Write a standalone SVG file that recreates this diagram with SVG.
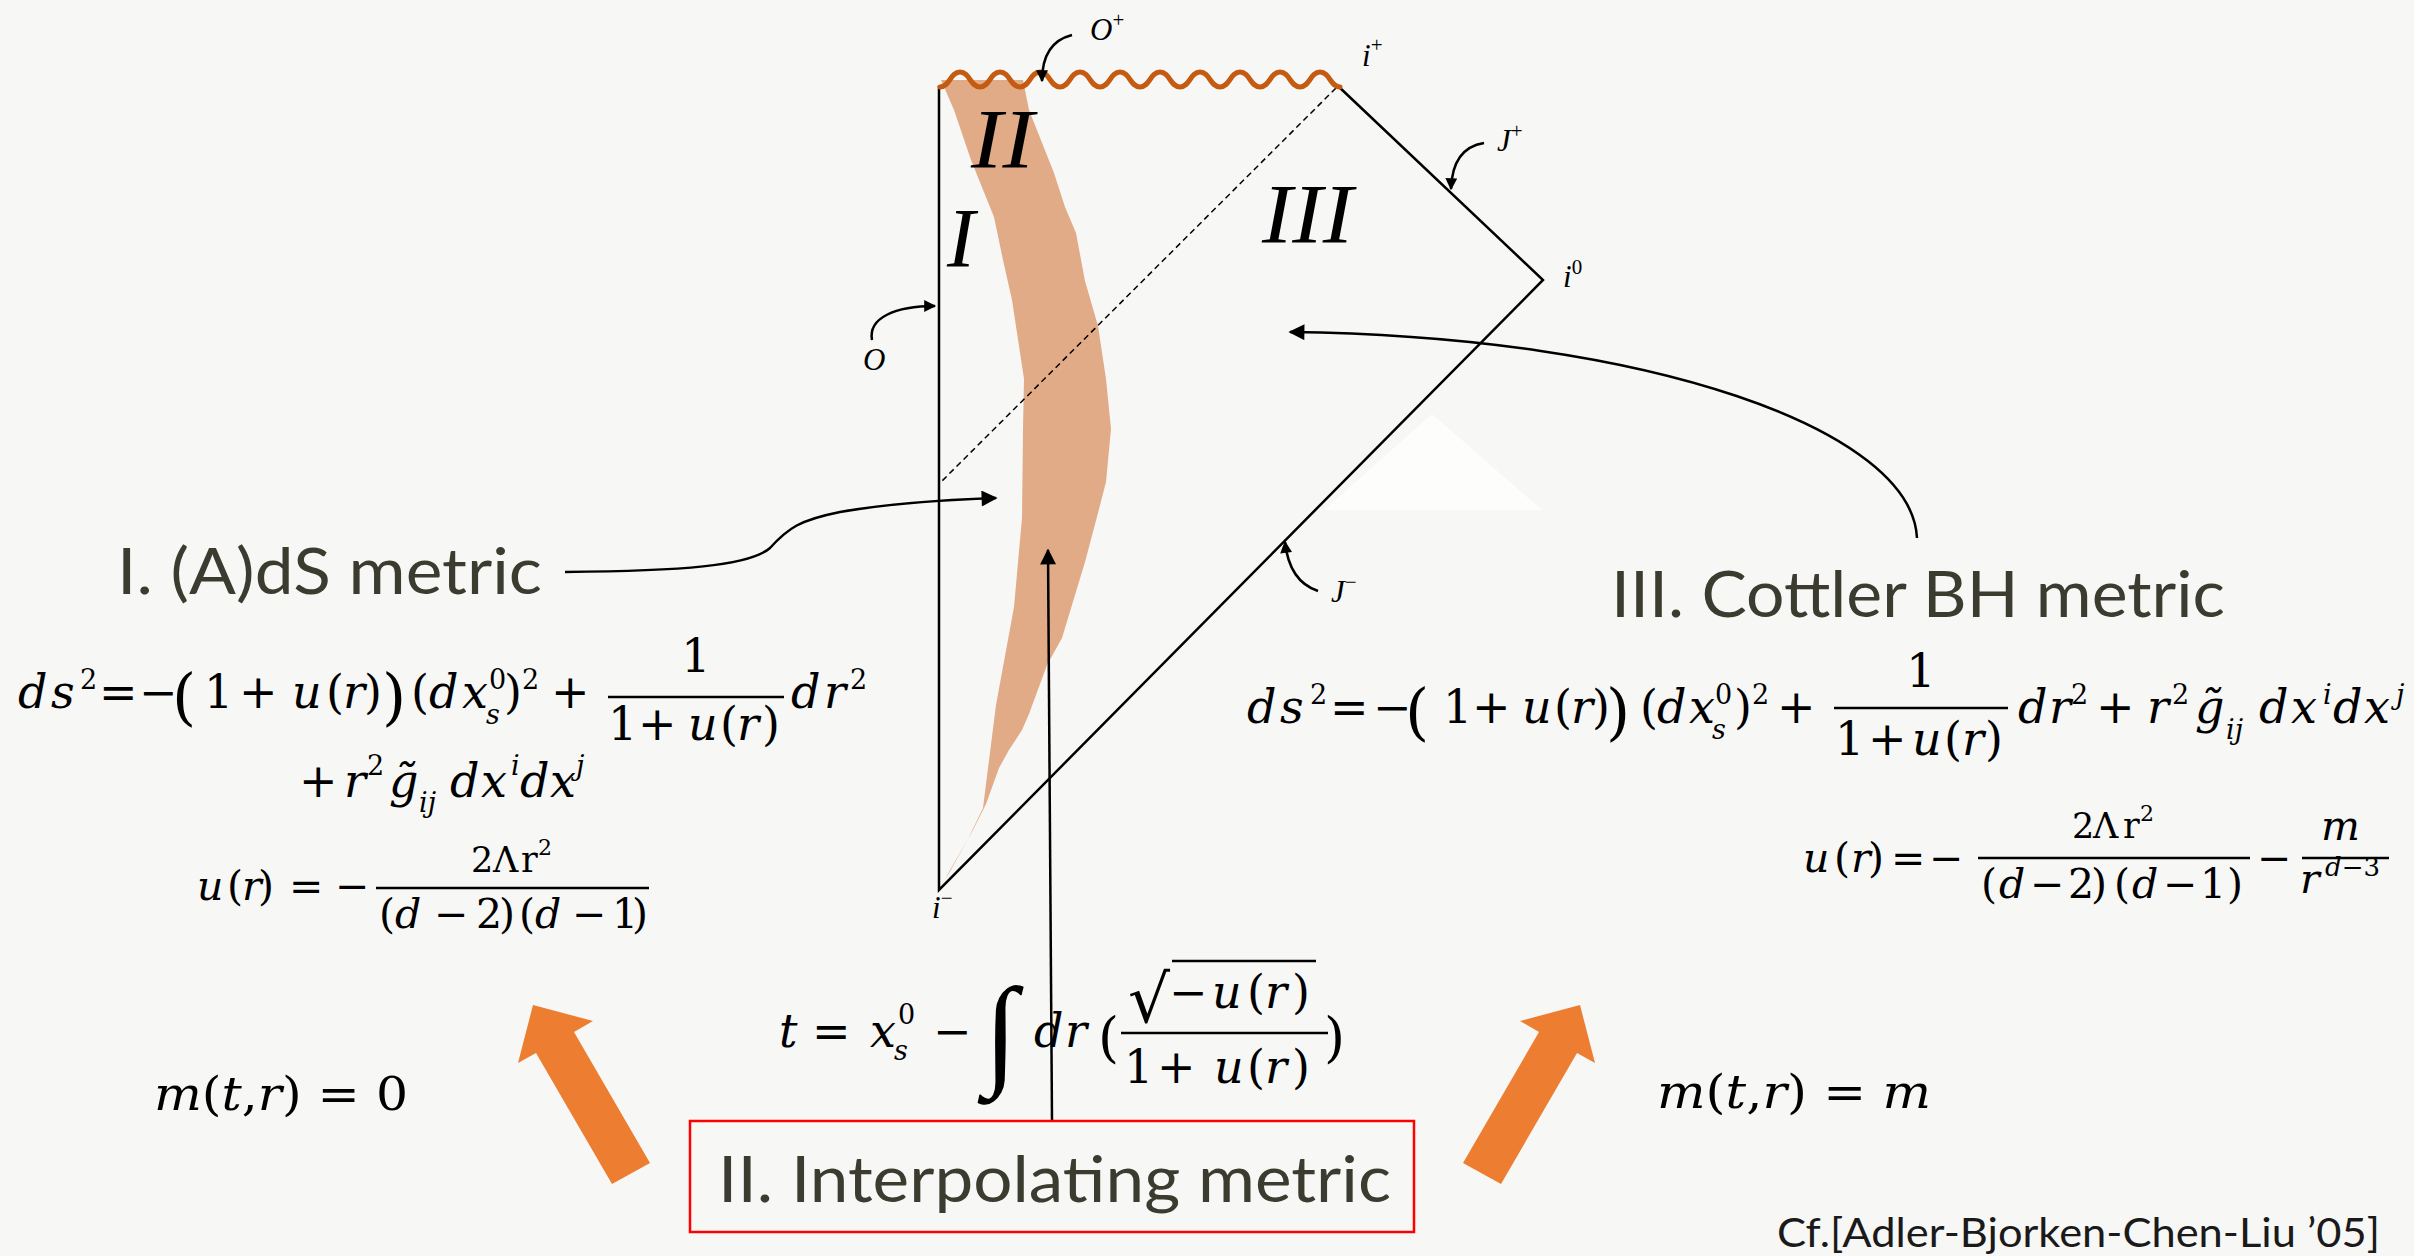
<svg xmlns="http://www.w3.org/2000/svg" width="2414" height="1256" viewBox="0 0 2414 1256">
<defs>
<style>
.pl{stroke:#000;stroke-width:2.5;fill:none}
.cn{stroke:#000;stroke-width:2.5;fill:none}
.t{font-family:Lato,"Open Sans","Liberation Sans",sans-serif;font-size:64px;fill:#3b3b2f}
.m{font-family:"DejaVu Serif","Liberation Serif",serif;font-size:46px;fill:#000}
.m40{font-family:"DejaVu Serif","Liberation Serif",serif;font-size:41px;fill:#000}
.i{font-style:italic}
.s{font-size:27px}
.lab{font-family:"Liberation Serif","DejaVu Serif",serif;font-style:italic;font-size:31px;fill:#000}
.sup{font-size:21px;font-style:normal}
.big{font-family:"Liberation Serif","DejaVu Serif",serif;font-style:italic;font-size:84px;fill:#000}
.bar{stroke:#000;stroke-width:2.5}
.orange{fill:#ED7D31}
</style>
<marker id="ah" viewBox="0 0 10 10" refX="9" refY="5" markerWidth="22" markerHeight="16" markerUnits="userSpaceOnUse" orient="auto"><path d="M0,0 L10,5 L0,10 z" fill="#000"/></marker>
<marker id="ahs" viewBox="0 0 10 10" refX="9" refY="5" markerWidth="16" markerHeight="12" markerUnits="userSpaceOnUse" orient="auto"><path d="M0,0 L10,5 L0,10 z" fill="#000"/></marker>
</defs>
<rect x="0" y="0" width="2414" height="1256" fill="#f7f7f6"/>
<polygon points="1324,510 1432,414 1542,510" fill="#ffffff" opacity="0.7"/>

<g id="penrose">
<polygon id="band" fill="#E1AB87" points="941,80 954,110 971,160 994,217 1003,260 1012,300 1024,379 1023,429 1022,518 1014,607 996,705 983,808 968,839 950,870 945,880 948,875 953,866 973,830 986,804 999,768 1009,750 1022,730 1029,714 1047,665 1062,638 1085,562 1098,513 1106,482 1111,429 1106,379 1098,326 1085,281 1076,233 1065,207 1054,173 1029,110 1023,80"/>
<path class="pl" d="M939,86 L939,890 L1543,280 L1338,86"/>
<path d="M1336,88 L941,482" stroke="#000" stroke-width="1.5" stroke-dasharray="6,4" fill="none"/>
<path id="singularity" d="M940,87 C950,87 950,72 960,72 S970,87 980,87 S990,72 1000,72 S1010,87 1020,87 S1030,72 1040,72 S1050,87 1060,87 S1070,72 1080,72 S1090,87 1100,87 S1110,72 1120,72 S1130,87 1140,87 S1150,72 1160,72 S1170,87 1180,87 S1190,72 1200,72 S1210,87 1220,87 S1230,72 1240,72 S1250,87 1260,87 S1270,72 1280,72 S1290,87 1300,87 S1310,72 1320,72 S1330,87 1340,87" stroke="#C55A11" stroke-width="5" fill="none" stroke-linecap="round"/>
<text class="big" x="971" y="168" textLength="63" lengthAdjust="spacingAndGlyphs">II</text>
<text class="big" x="947" y="267">I</text>
<text class="big" x="1262" y="243" textLength="91" lengthAdjust="spacingAndGlyphs">III</text>
<text class="lab" x="1090" y="40">O<tspan class="sup" dy="-13">+</tspan></text>
<text class="lab" x="1362" y="66">i<tspan class="sup" dy="-14">+</tspan></text>
<text class="lab" x="1497" y="151">J<tspan class="sup" dy="-13">+</tspan></text>
<text class="lab" x="1563" y="287">i<tspan class="sup" dy="-13">0</tspan></text>
<text class="lab" x="863" y="370">O</text>
<text class="lab" x="1331" y="602">J<tspan class="sup" dy="-13">−</tspan></text>
<text class="lab" x="932" y="918">i<tspan class="sup" dy="-13">−</tspan></text>
</g>

<g id="connectors">
<path class="cn" d="M1072,35 C1052,40 1042,56 1042,81" stroke-width="2" marker-end="url(#ahs)"/>
<path class="cn" d="M1484,143 C1465,146 1452,160 1451,189" stroke-width="2" marker-end="url(#ahs)"/>
<path class="cn" d="M872,340 C868,318 895,306 935,306" stroke-width="2" marker-end="url(#ahs)"/>
<path class="cn" d="M1318,591 C1300,585 1288,570 1285,542" stroke-width="2" marker-end="url(#ahs)"/>
<path class="cn" d="M565,572 C680,571 750,566 770,548 C788,528 800,520 840,512 C880,505 940,500 996,498" marker-end="url(#ah)"/>
<path class="cn" d="M1917,538 C1912,430 1650,336 1290,332" marker-end="url(#ah)"/>
<path class="cn" d="M1052,1121 L1048,550" marker-end="url(#ah)"/>
<polygon class="orange" points="533,1005 593,1021 574,1032 650,1163 612,1184 536,1053 518,1063"/>
<polygon class="orange" points="1580,1005 1520,1021 1539,1032 1463,1163 1501,1184 1577,1053 1595,1063"/>
</g>

<g id="ads">
<text class="t" x="117" y="594" textLength="425" lengthAdjust="spacingAndGlyphs">I. (A)dS metric</text>
<text class="m" y="708"><tspan x="18" class="i">d</tspan><tspan x="51" class="i">s</tspan><tspan x="80" y="689" class="s">2</tspan><tspan x="99" y="708">=</tspan><tspan x="139">−</tspan><tspan x="172" y="718" style="font-size:62px">(</tspan><tspan x="204" y="708">1</tspan><tspan x="239">+</tspan><tspan x="292" class="i">u</tspan><tspan x="326">(</tspan><tspan x="343" class="i">r</tspan><tspan x="364">)</tspan><tspan x="382" y="718" style="font-size:62px">)</tspan><tspan x="411" y="708">(</tspan><tspan x="429" class="i">d</tspan><tspan x="462" class="i">x</tspan><tspan x="489" y="689" class="s">0</tspan><tspan x="486" y="724" class="s i">s</tspan><tspan x="504" y="708">)</tspan><tspan x="522" y="689" class="s">2</tspan><tspan x="551" y="708">+</tspan><tspan x="791" class="i">d</tspan><tspan x="824" class="i">r</tspan><tspan x="850" y="689" class="s">2</tspan></text>
<text class="m" x="696" y="672" text-anchor="middle">1</text>
<line class="bar" x1="608" y1="697" x2="784" y2="697"/>
<text class="m" y="740"><tspan x="608">1</tspan><tspan x="638">+</tspan><tspan x="688" class="i">u</tspan><tspan x="720">(</tspan><tspan x="737" class="i">r</tspan><tspan x="762">)</tspan></text>
<text class="m" y="797"><tspan x="299">+</tspan><tspan x="344" class="i">r</tspan><tspan x="367" y="775" class="s">2</tspan><tspan x="389" y="797" class="i">g̃</tspan><tspan x="419" y="812" class="s i">ij</tspan><tspan x="450" y="797" class="i">d</tspan><tspan x="481" class="i">x</tspan><tspan x="511" y="775" class="s i">i</tspan><tspan x="520" y="797" class="i">d</tspan><tspan x="550" class="i">x</tspan><tspan x="576" y="775" class="s i">j</tspan></text>
<text class="m40" y="900"><tspan x="197" class="i">u</tspan><tspan x="227">(</tspan><tspan x="242" class="i">r</tspan><tspan x="258">)</tspan><tspan x="289">=</tspan><tspan x="335">−</tspan></text>
<text class="m40" y="872" style="font-size:35px"><tspan x="471">2</tspan><tspan x="493">Λ</tspan><tspan x="521">r</tspan><tspan x="538" y="855" style="font-size:22px">2</tspan></text>
<line class="bar" x1="376" y1="888" x2="649" y2="888"/>
<text class="m40" y="928"><tspan x="379">(</tspan><tspan x="395" class="i">d</tspan><tspan x="434">−</tspan><tspan x="476">2</tspan><tspan x="499">)</tspan><tspan x="519">(</tspan><tspan x="535" class="i">d</tspan><tspan x="572">−</tspan><tspan x="612">1</tspan><tspan x="632">)</tspan></text>
<text class="m" y="1110" x="154" textLength="254" lengthAdjust="spacingAndGlyphs"><tspan class="i">m</tspan>(<tspan class="i">t</tspan>,<tspan class="i">r</tspan>) = 0</text>
</g>

<g id="interp">
<rect x="690" y="1121" width="724" height="111" fill="none" stroke="#ff0000" stroke-width="2.5"/>
<text class="t" x="718" y="1202" textLength="673" lengthAdjust="spacingAndGlyphs">II. Interpolating metric</text>
<text class="m" y="1047"><tspan x="779" class="i">t</tspan><tspan x="812">=</tspan><tspan x="870" class="i">x</tspan><tspan x="898" y="1024" class="s">0</tspan><tspan x="894" y="1060" class="s i">s</tspan><tspan x="933" y="1047">−</tspan><tspan x="1034" class="i">d</tspan><tspan x="1065" class="i">r</tspan><tspan x="1098" y="1056" style="font-size:54px">(</tspan><tspan x="1324" y="1056" style="font-size:54px">)</tspan></text>
<text x="984" y="1072" style="font-family:'Liberation Serif',serif;font-size:122px">∫</text>
<text x="1128" y="1022" style="font-family:'DejaVu Serif',serif;font-size:66px">√</text>
<line class="bar" x1="1172" y1="961" x2="1316" y2="961"/>
<text class="m" y="1008"><tspan x="1169">−</tspan><tspan x="1212" class="i">u</tspan><tspan x="1247">(</tspan><tspan x="1265" class="i">r</tspan><tspan x="1292">)</tspan></text>
<line class="bar" x1="1121" y1="1033" x2="1328" y2="1033"/>
<text class="m" y="1083"><tspan x="1124">1</tspan><tspan x="1157">+</tspan><tspan x="1214" class="i">u</tspan><tspan x="1247">(</tspan><tspan x="1265" class="i">r</tspan><tspan x="1292">)</tspan></text>
</g>

<g id="cottler">
<text class="t" x="1611" y="617" textLength="614" lengthAdjust="spacingAndGlyphs">III. Cottler BH metric</text>
<text class="m" y="723"><tspan x="1247" class="i">d</tspan><tspan x="1280" class="i">s</tspan><tspan x="1310" y="704" class="s">2</tspan><tspan x="1330" y="723">=</tspan><tspan x="1373">−</tspan><tspan x="1405" y="733" style="font-size:62px">(</tspan><tspan x="1443" y="723">1</tspan><tspan x="1472">+</tspan><tspan x="1522" class="i">u</tspan><tspan x="1554">(</tspan><tspan x="1571" class="i">r</tspan><tspan x="1592">)</tspan><tspan x="1606" y="733" style="font-size:62px">)</tspan><tspan x="1640" y="723">(</tspan><tspan x="1657" class="i">d</tspan><tspan x="1689" class="i">x</tspan><tspan x="1715" y="704" class="s">0</tspan><tspan x="1712" y="739" class="s i">s</tspan><tspan x="1734" y="723">)</tspan><tspan x="1752" y="704" class="s">2</tspan><tspan x="1777" y="723">+</tspan><tspan x="2018" class="i">d</tspan><tspan x="2049" class="i">r</tspan><tspan x="2071" y="704" class="s">2</tspan><tspan x="2096" y="723">+</tspan><tspan x="2147" class="i">r</tspan><tspan x="2172" y="704" class="s">2</tspan><tspan x="2195" y="723" class="i">g̃</tspan><tspan x="2226" y="739" class="s i">ij</tspan><tspan x="2259" y="723" class="i">d</tspan><tspan x="2291" class="i">x</tspan><tspan x="2323" y="704" class="s i">i</tspan><tspan x="2333" y="723" class="i">d</tspan><tspan x="2364" class="i">x</tspan><tspan x="2396" y="704" class="s i">j</tspan></text>
<text class="m" x="1921" y="687" text-anchor="middle">1</text>
<line class="bar" x1="1834" y1="708" x2="2008" y2="708"/>
<text class="m" y="755"><tspan x="1835">1</tspan><tspan x="1868">+</tspan><tspan x="1912" class="i">u</tspan><tspan x="1944">(</tspan><tspan x="1962" class="i">r</tspan><tspan x="1985">)</tspan></text>
<text class="m40" y="872"><tspan x="1803" class="i">u</tspan><tspan x="1834">(</tspan><tspan x="1851" class="i">r</tspan><tspan x="1868">)</tspan><tspan x="1891">=</tspan><tspan x="1929">−</tspan><tspan x="2257">−</tspan></text>
<text class="m40" y="838" style="font-size:35px"><tspan x="2072">2</tspan><tspan x="2093">Λ</tspan><tspan x="2123">r</tspan><tspan x="2140" y="821" style="font-size:22px">2</tspan></text>
<line class="bar" x1="1978" y1="858" x2="2250" y2="858"/>
<text class="m40" y="898"><tspan x="1981">(</tspan><tspan x="1999" class="i">d</tspan><tspan x="2030">−</tspan><tspan x="2068">2</tspan><tspan x="2091">)</tspan><tspan x="2114">(</tspan><tspan x="2132" class="i">d</tspan><tspan x="2163">−</tspan><tspan x="2200">1</tspan><tspan x="2227">)</tspan></text>
<text class="m40 i" x="2321" y="840">m</text>
<line class="bar" x1="2302" y1="858" x2="2389" y2="858"/>
<text class="m40" y="893"><tspan x="2300" class="i">r</tspan><tspan x="2325" y="876" style="font-size:26px" class="i">d</tspan><tspan style="font-size:26px">−3</tspan></text>
<text class="m" y="1108" x="1657" textLength="274" lengthAdjust="spacingAndGlyphs"><tspan class="i">m</tspan>(<tspan class="i">t</tspan>,<tspan class="i">r</tspan>) = <tspan class="i">m</tspan></text>
</g>

<text id="ref" x="1777" y="1247" textLength="603" lengthAdjust="spacingAndGlyphs" style="font-family:Lato,'Open Sans','Liberation Sans',sans-serif;font-size:40px;fill:#1a1a1a">Cf.[Adler-Bjorken-Chen-Liu ’05]</text>
</svg>
